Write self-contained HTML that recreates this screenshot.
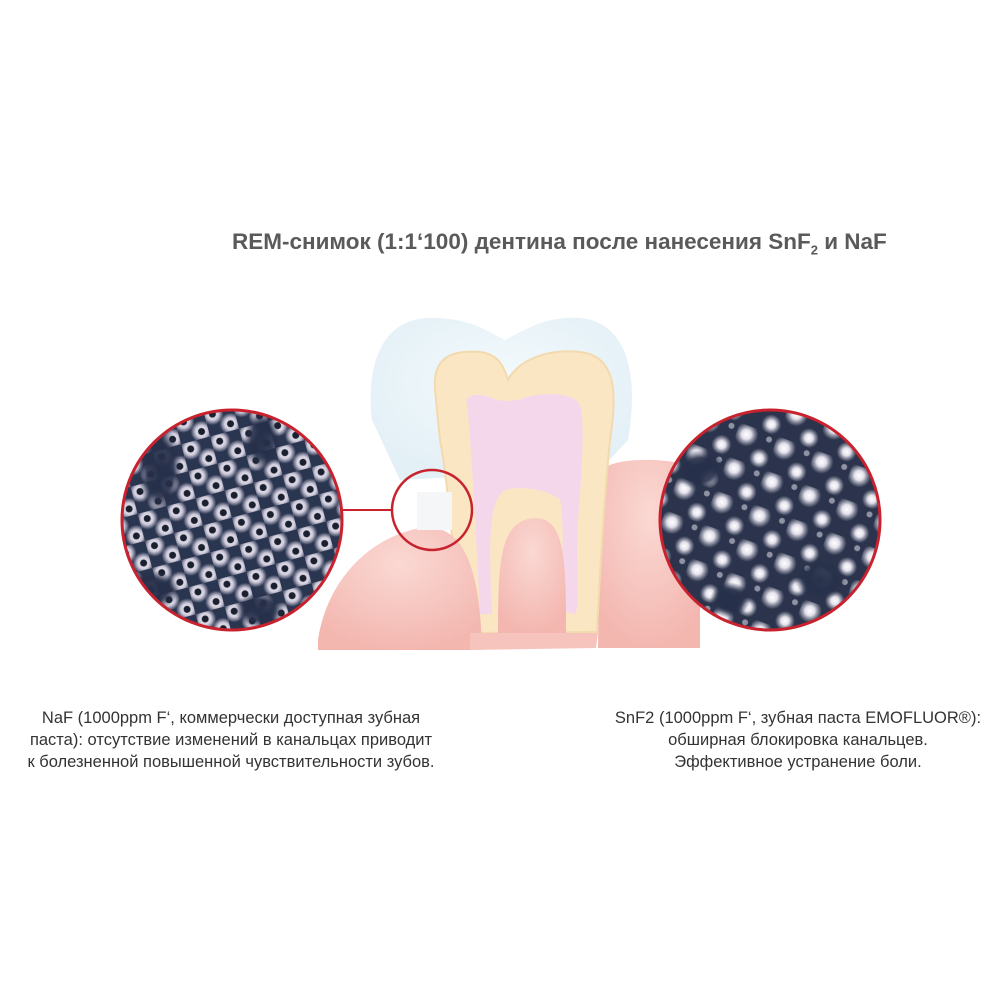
<!DOCTYPE html>
<html><head><meta charset="utf-8">
<style>
body{margin:0;background:#fff;width:1000px;height:1000px;overflow:hidden;position:relative;font-family:"Liberation Sans",sans-serif;}
.t{position:absolute;left:232px;white-space:nowrap;top:229px;font-size:22.5px;font-weight:bold;color:#5a5a5a;}
.p{position:absolute;font-size:16.5px;color:#333;line-height:22px;white-space:nowrap;}
</style></head><body>
<svg width="1000" height="1000" style="position:absolute;left:0;top:0">
<defs>
<radialGradient id="wb" cx="50%" cy="50%" r="50%">
<stop offset="0" stop-color="#f2f0f6"/><stop offset="0.55" stop-color="#d0ccdc"/><stop offset="1" stop-color="#d0ccdc" stop-opacity="0"/></radialGradient>
<radialGradient id="fb" cx="50%" cy="50%" r="50%">
<stop offset="0" stop-color="#ffffff"/><stop offset="0.4" stop-color="#e4e2ec"/><stop offset="1" stop-color="#c0c0d0" stop-opacity="0"/></radialGradient>
<radialGradient id="dk" cx="50%" cy="50%" r="50%"><stop offset="0" stop-color="#27304a"/><stop offset="0.6" stop-color="#27304a" stop-opacity=".9"/><stop offset="1" stop-color="#27304a" stop-opacity="0"/></radialGradient>
<pattern id="pl" width="30" height="28" patternUnits="userSpaceOnUse" patternTransform="rotate(-15)">
<rect width="30" height="28" fill="#2a3550"/>
<circle cx="8" cy="7" r="11" fill="url(#wb)"/><circle cx="8" cy="7" r="3.5" fill="#1a2030"/>
<circle cx="23" cy="21" r="11" fill="url(#wb)"/><circle cx="23" cy="21" r="3.5" fill="#1a2030"/>
</pattern>
<pattern id="pr" width="40" height="36" patternUnits="userSpaceOnUse" patternTransform="rotate(20)">
<rect width="40" height="36" fill="#2b344c"/>
<circle cx="10" cy="9" r="12" fill="url(#fb)"/>
<circle cx="30" cy="27" r="10" fill="url(#fb)"/>
<circle cx="33" cy="6" r="3" fill="#d0d0dc" opacity=".6"/>
</pattern>
<clipPath id="cl"><circle cx="232" cy="520" r="110"/></clipPath>
<clipPath id="cr"><circle cx="770" cy="520" r="110"/></clipPath>
<radialGradient id="gum" cx="50%" cy="30%" r="70%"><stop offset="0" stop-color="#fbd8d3"/><stop offset="1" stop-color="#f3b7b0"/></radialGradient>
<radialGradient id="en" cx="50%" cy="40%" r="60%"><stop offset="0" stop-color="#f4fafd"/><stop offset="1" stop-color="#e3f0f6"/></radialGradient>
</defs>
<path d="M372 420 C365 360 385 318 430 318 C470 318 485 330 505 340 C525 330 545 316 580 318 C625 322 640 370 628 440 L600 470 L400 480 Z" fill="url(#en)"/>
<path d="M600 470 C620 455 680 458 700 470 L700 648 L598 648 Z" fill="url(#gum)"/>
<path d="M435 390 C432 355 455 350 480 352 C500 354 505 370 508 380 C515 365 540 348 580 352 C615 356 618 390 610 440 C604 500 600 570 597 632 L460 633 C456 580 448 480 440 440 Z" fill="#fbe6c4" stroke="#f3d9ae" stroke-width="2"/>
<path d="M467 404 C463 395 480 392 492 398 C502 402 512 402 524 398 C540 392 575 392 580 405 C585 420 582 470 578 520 C575 560 580 590 576 614 L566 612 C560 570 565 520 560 500 C550 490 520 485 505 490 C490 500 488 530 492 614 L480 614 C478 570 472 450 467 404 Z" fill="#f5d7ec"/>
<path d="M498 633 C498 560 500 520 535 518 C565 518 566 560 566 633 Z" fill="url(#gum)"/>
<path d="M318 640 C325 590 360 540 420 528 C460 522 480 560 482 650 L318 650 Z" fill="url(#gum)"/>
<path d="M470 633 L598 633 L596 648 L470 650 Z" fill="#f6c4bd"/>
<rect x="417" y="492" width="35" height="38" fill="#f4f6f8"/>
<line x1="342" y1="510" x2="392" y2="510" stroke="#c8222e" stroke-width="2"/>
<circle cx="432" cy="510" r="40" fill="none" stroke="#c8222e" stroke-width="2.5"/>
<circle cx="232" cy="520" r="110" fill="url(#pl)"/>
<g clip-path="url(#cl)">
<ellipse cx="160" cy="470" rx="22" ry="45" fill="url(#dk)"/>
<ellipse cx="262" cy="440" rx="18" ry="30" fill="url(#dk)"/>
<ellipse cx="150" cy="590" rx="30" ry="20" fill="url(#dk)"/>
<ellipse cx="260" cy="610" rx="25" ry="18" fill="url(#dk)"/>
</g>
<circle cx="232" cy="520" r="110" fill="none" stroke="#c8222e" stroke-width="3"/>
<circle cx="770" cy="520" r="110" fill="url(#pr)"/>
<g clip-path="url(#cr)">
<ellipse cx="700" cy="470" rx="25" ry="20" fill="url(#dk)"/>
<ellipse cx="820" cy="580" rx="25" ry="20" fill="url(#dk)"/>
<ellipse cx="730" cy="600" rx="20" ry="18" fill="url(#dk)"/>
</g>
<circle cx="770" cy="520" r="110" fill="none" stroke="#c8222e" stroke-width="3"/>
</svg>
<div class="t">REM-снимок (1:1‘100) дентина после нанесения SnF<sub style="font-size:13px">2</sub> и NaF</div>
<div class="p" style="left:0;width:462px;text-align:center;top:707px">NaF (1000ppm F‘, коммерчески доступная зубная<br>паста): отсутствие изменений в канальцах приводит<br>к болезненной повышенной чувствительности зубов.</div>
<div class="p" style="left:598px;width:400px;text-align:center;top:707px">SnF2 (1000ppm F‘, зубная паста EMOFLUOR®):<br>обширная блокировка канальцев.<br>Эффективное устранение боли.</div>
</body></html>
